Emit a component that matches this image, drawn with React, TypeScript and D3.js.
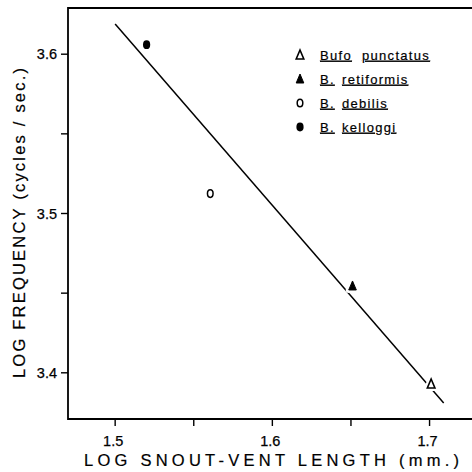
import React from "react";
import * as d3 from "d3";

// ---- data ----
const species = ["Bufo punctatus", "B. retiformis", "B. debilis", "B. kelloggi"];
const logLength = [1.701, 1.651, 1.5605, 1.52];
const logFreq = [3.393, 3.4545, 3.5125, 3.606];
const markerKind = ["triangleOpen", "triangleFilled", "circleOpen", "circleFilled"];

const lineX = [1.5, 1.709];
const lineY = [3.619, 3.381];

const xMajorTicks = [1.5, 1.6, 1.7];
const xMinorTicks = [1.55, 1.65];
const xTickLabels = ["1.5", "1.6", "1.7"];
const yMajorTicks = [3.4, 3.5, 3.6];
const yMinorTicks = [3.45, 3.55];
const yTickLabels = ["3.4", "3.5", "3.6"];

const xTitle = "LOG SNOUT-VENT LENGTH (mm.)";
const yTitle = "LOG FREQUENCY (cycles / sec.)";

// ---- layout ----
const W = 472;
const H = 472;
const left = 68;
const top = 8;
const bottom = 419;
const xDomain = [1.47, 1.727];
const yDomain = [3.371, 3.629];
const FONT = "'Liberation Sans', Arial, sans-serif";

function Marker({ kind, x, y, halo }: { kind: string; x: number; y: number; halo?: boolean }) {
  const tri = `M${x},${y - 5} L${x + 3.8},${y + 4} L${x - 3.8},${y + 4} Z`;
  if (kind === "triangleOpen" || kind === "triangleFilled") {
    const filled = kind === "triangleFilled";
    return (
      <g>
        {halo && <path d={tri} fill="white" stroke="white" strokeWidth={6} strokeLinejoin="round" />}
        <path d={tri} fill={filled ? "black" : "white"} stroke="black" strokeWidth={filled ? 1 : 1.6} strokeLinejoin="miter" />
      </g>
    );
  }
  if (kind === "circleOpen") {
    return <ellipse cx={x} cy={y} rx={2.8} ry={3.8} fill="white" stroke="black" strokeWidth={1.5} />;
  }
  return <ellipse cx={x} cy={y} rx={3.6} ry={4.4} fill="black" />;
}

export default function App() {
  const x = d3.scaleLinear().domain(xDomain).range([left, W]);
  const y = d3.scaleLinear().domain(yDomain).range([bottom, top]);
  const linePath = d3.line<number>()
    .x((d) => x(d))
    .y((_, i) => y(lineY[i]))(lineX) as string;

  const legendX = 300;
  const legendY0 = 55;
  const legendDy = 24;
  const secondWordX = [362, 342, 342, 342];

  return (
    <svg width={W} height={H} style={{ position: "absolute", left: 0, top: 0, background: "white" }}>
      <rect x={0} y={0} width={W} height={H} fill="white" />
      {/* frame */}
      <path d={`M${W + 5},${top} H${left} V${bottom} H${W + 5}`} fill="none" stroke="black" strokeWidth={1.8} />
      {/* x ticks */}
      {xMajorTicks.concat(xMinorTicks).map((t, i) => (
        <line key={"xt" + i} x1={x(t)} x2={x(t)} y1={bottom} y2={bottom + 7} stroke="black" strokeWidth={1.4} />
      ))}
      {xMajorTicks.map((t, i) => (
        <text key={"xl" + i} x={x(t) - 2} y={446} textAnchor="middle" fontFamily={FONT} fontSize={14.5} stroke="black" strokeWidth={0.25}>
          {xTickLabels[i]}
        </text>
      ))}
      {/* y ticks */}
      {yMajorTicks.concat(yMinorTicks).map((t, i) => (
        <line key={"yt" + i} x1={left - 7} x2={left} y1={y(t)} y2={y(t)} stroke="black" strokeWidth={1.4} />
      ))}
      {yMajorTicks.map((t, i) => (
        <text key={"yl" + i} x={57} y={y(t) + 5} textAnchor="end" fontFamily={FONT} fontSize={14.5} stroke="black" strokeWidth={0.25}>
          {yTickLabels[i]}
        </text>
      ))}
      {/* titles */}
      <text x={84} y={466} fontFamily={FONT} fontSize={16.5} textLength={375} lengthAdjust="spacing" stroke="black" strokeWidth={0.2}>
        {xTitle}
      </text>
      <text
        transform={`translate(25,378) rotate(-90)`}
        x={0}
        y={0}
        fontFamily={FONT}
        fontSize={16.5}
        textLength={310}
        lengthAdjust="spacing"
        stroke="black"
        strokeWidth={0.2}
      >
        {yTitle}
      </text>
      {/* regression line */}
      <path d={linePath} fill="none" stroke="black" strokeWidth={1.5} />
      {/* points */}
      {logLength.map((lx, i) => (
        <Marker key={"p" + i} kind={markerKind[i]} x={x(lx)} y={y(logFreq[i])} halo />
      ))}
      {/* legend */}
      {species.map((name, i) => {
        const words = name.split(" ");
        const cy = legendY0 + i * legendDy;
        return (
          <g key={"lg" + i}>
            <Marker kind={markerKind[i]} x={legendX} y={cy} />
            <text fontFamily={FONT} fontSize={13} letterSpacing={1.3} y={cy + 4.6} stroke="black" strokeWidth={0.2}>
              <tspan x={320} textDecoration="underline">{words[0]}</tspan>
              <tspan x={secondWordX[i]} textDecoration="underline">{words[1]}</tspan>
            </text>
          </g>
        );
      })}
    </svg>
  );
}
